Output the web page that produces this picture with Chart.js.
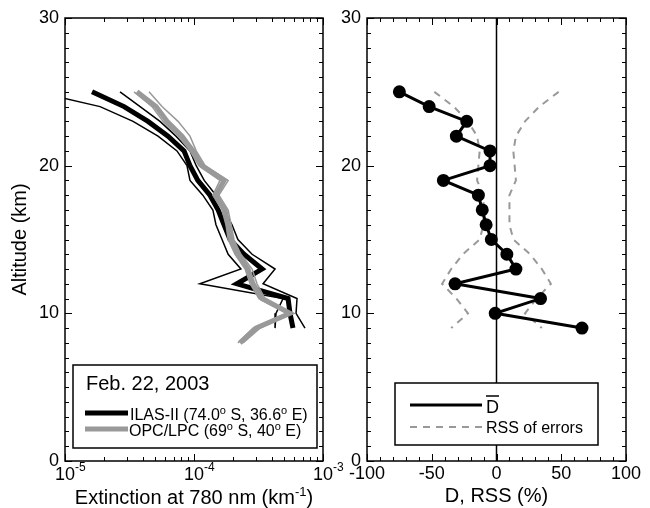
<!DOCTYPE html>
<html lang="en">
<head>
<meta charset="UTF-8">
<title>ILAS-II vs OPC/LPC extinction, Feb. 22, 2003</title>
<script src="https://cdn.jsdelivr.net/npm/chart.js"></script>
<style>
  body { margin: 0; background: #fff; }
  #wrap { position: relative; width: 650px; height: 508px; }
  canvas { position: absolute; top: 0; }
  #left { left: 0; }
  #right { left: 330px; }
</style>
</head>
<body>
<div id="wrap">
  <canvas id="left" width="345" height="508"></canvas>
  <canvas id="right" width="320" height="508"></canvas>
</div>
<script>
// ILAS-II extinction profile (km^-1) with lower / upper error bounds
const ilasAlt = [25, 24, 23, 22, 21, 20, 19, 18, 17, 16, 15, 14, 13, 12, 11, 10, 9];
const ilasExt = [1.62e-5, 2.87e-5, 4.40e-5, 6.29e-5, 8.37e-5, 9.31e-5, 1.07e-4, 1.33e-4, 1.54e-4, 1.71e-4, 1.90e-4, 2.44e-4, 3.37e-4, 2.15e-4, 5.36e-4, 5.55e-4, 5.85e-4];
const ilasLow = [6.0e-6, 1.87e-5, 3.37e-5, 5.26e-5, 7.38e-5, 8.82e-5, 9.31e-5, 1.17e-4, 1.40e-4, 1.48e-4, 1.65e-4, 1.84e-4, 2.31e-4, 1.11e-4, 4.90e-4, 4.32e-4, 4.25e-4];
const ilasHigh = [2.67e-5, 3.82e-5, 5.45e-5, 7.25e-5, 9.31e-5, 1.04e-4, 1.20e-4, 1.48e-4, 1.71e-4, 1.97e-4, 2.19e-4, 2.82e-4, 4.25e-4, 3.43e-4, 6.29e-4, 6.18e-4, 7.25e-4];

// OPC/LPC extinction profile with its bounds
const opcAlt = [25, 24, 23, 22, 21, 20, 19, 18, 17, 16, 15, 14, 13, 12, 11, 10, 9, 8];
const opcExt = [3.61e-5, 5.08e-5, 6.18e-5, 8.07e-5, 9.82e-5, 1.15e-4, 1.71e-4, 1.48e-4, 1.74e-4, 1.84e-4, 1.94e-4, 2.19e-4, 2.62e-4, 2.87e-4, 3.37e-4, 5.55e-4, 3.02e-4, 2.27e-4];
const opcLow = [3.43e-5, 4.73e-5, 5.75e-5, 7.52e-5, 9.31e-5, 1.09e-4, 1.59e-4, 1.40e-4, 1.65e-4, 1.77e-4, 1.84e-4, 2.08e-4, 2.49e-4, 2.72e-4, 3.19e-4, 5.26e-4, 2.87e-4, 2.19e-4];
const opcHigh = [4.48e-5, 5.65e-5, 7.52e-5, 9.31e-5, 1.04e-4, 1.22e-4, 1.84e-4, 1.56e-4, 1.84e-4, 1.94e-4, 2.04e-4, 2.31e-4, 2.82e-4, 3.08e-4, 3.55e-4, 5.75e-4, 3.25e-4, 2.40e-4];

// mean difference D (%) and RSS of errors (%)
const diffAlt = [25, 24, 23, 22, 21, 20, 19, 18, 17, 16, 15, 14, 13, 12, 11, 10, 9];
const diffMean = [-75, -52, -23, -31, -5, -5, -41, -14, -11, -8, -4, 8, 15, -32, 34, -1, 66];
const rssErr = [48, 33, 22, 15, 13, 14, 15, 10, 10, 10, 13, 26, 35, 42, 31, 22, 35];

const altTicks = [0, 10, 20, 30];
const extTicks = [1e-5, 1e-4, 1e-3];
const diffTicks = [-100, -50, 0, 50, 100];

const FONT = '"Liberation Sans", Arial, sans-serif';
const GRAY = '#999999';

function pts(xs, ys) {
  return xs.map((x, i) => ({ x: x, y: ys[i] }));
}

// box round the plot + inward ticks on all four sides
function drawBox(chart, xMinor, xMajor) {
  const { ctx, chartArea: a, scales } = chart;
  const x = scales.x, y = scales.y;
  ctx.save();
  ctx.strokeStyle = '#000';
  ctx.lineWidth = 1;
  ctx.beginPath();
  const tick = (vals, len, horiz) => {
    vals.forEach(v => {
      if (horiz) {
        const p = Math.round(x.getPixelForValue(v)) + 0.5;
        ctx.moveTo(p, a.bottom); ctx.lineTo(p, a.bottom - len);
        ctx.moveTo(p, a.top); ctx.lineTo(p, a.top + len);
      } else {
        const p = Math.round(y.getPixelForValue(v)) + 0.5;
        ctx.moveTo(a.left, p); ctx.lineTo(a.left + len, p);
        ctx.moveTo(a.right, p); ctx.lineTo(a.right - len, p);
      }
    });
  };
  const yMinor = [];
  for (let v = 0; v <= 30; v++) yMinor.push(v);
  tick(yMinor, 4, false);
  tick(altTicks, 7, false);
  tick(xMinor, 4, true);
  tick(xMajor, 7, true);
  ctx.stroke();
  ctx.lineWidth = 1.5;
  ctx.strokeRect(a.left, a.top, a.right - a.left, a.bottom - a.top);
  ctx.restore();
}

// text with superscript parts: [normal, sup, normal, sup, ...]
function supText(ctx, parts, x, y, size, supSize, rise) {
  parts.forEach((s, i) => {
    const sup = i % 2 === 1;
    ctx.font = (sup ? supSize : size) + 'px ' + FONT;
    ctx.fillText(s, x, sup ? y - rise : y);
    x += ctx.measureText(s).width;
  });
  return x;
}
function supWidth(ctx, parts, size, supSize) {
  let w = 0;
  parts.forEach((s, i) => {
    ctx.font = ((i % 2) ? supSize : size) + 'px ' + FONT;
    w += ctx.measureText(s).width;
  });
  return w;
}

const logMinor = [];
[1e-5, 1e-4].forEach(d => { for (let k = 2; k <= 9; k++) logMinor.push(k * d); });

const leftDecor = {
  id: 'leftDecor',
  afterDraw(chart) {
    const ctx = chart.ctx;
    drawBox(chart, logMinor, extTicks);
    ctx.save();
    ctx.fillStyle = '#000';
    ctx.textBaseline = 'alphabetic';
    // log tick labels 10^n
    extTicks.forEach(v => {
      const p = chart.scales.x.getPixelForValue(v);
      const e = String(Math.round(Math.log10(v)));
      ctx.font = '18px ' + FONT;
      const w10 = ctx.measureText('10').width;
      supText(ctx, ['10', e], p - w10 / 2, 480, 18, 12, 9);
    });
    // x title
    const tparts = ['Extinction at 780 nm (km', '-1', ')'];
    const tw = supWidth(ctx, tparts, 20, 13);
    const cx = (chart.chartArea.left + chart.chartArea.right) / 2;
    supText(ctx, tparts, cx - tw / 2, 504, 20, 13, 8);
    // legend
    ctx.fillStyle = '#fff';
    ctx.fillRect(73, 365, 244, 83);
    ctx.strokeStyle = '#000';
    ctx.lineWidth = 1.5;
    ctx.strokeRect(73, 365, 244, 83);
    ctx.fillStyle = '#000';
    ctx.font = '20px ' + FONT;
    ctx.fillText('Feb. 22, 2003', 86, 390);
    ctx.lineWidth = 5;
    ctx.beginPath(); ctx.moveTo(85, 413); ctx.lineTo(128, 413); ctx.stroke();
    ctx.strokeStyle = GRAY;
    ctx.beginPath(); ctx.moveTo(85, 429); ctx.lineTo(128, 429); ctx.stroke();
    supText(ctx, ['ILAS-II (74.0', 'o', ' S, 36.6', 'o', ' E)'], 130, 420, 16, 11, 6);
    supText(ctx, ['OPC/LPC (69', 'o', ' S, 40', 'o', ' E)'], 129, 436, 16, 11, 6);
    ctx.restore();
  }
};

const linMinor = [];
for (let v = -100; v <= 100; v += 10) linMinor.push(v);

const rightDecor = {
  id: 'rightDecor',
  afterDraw(chart) {
    const ctx = chart.ctx;
    drawBox(chart, linMinor, diffTicks);
    ctx.save();
    const ox = -330;
    ctx.fillStyle = '#fff';
    ctx.fillRect(395 + ox, 383, 203, 62);
    ctx.strokeStyle = '#000';
    ctx.lineWidth = 1.5;
    ctx.strokeRect(395 + ox, 383, 203, 62);
    ctx.lineWidth = 3;
    ctx.beginPath(); ctx.moveTo(410 + ox, 405); ctx.lineTo(482 + ox, 405); ctx.stroke();
    ctx.strokeStyle = GRAY;
    ctx.lineWidth = 2;
    ctx.setLineDash([7, 6]);
    ctx.beginPath(); ctx.moveTo(410 + ox, 427); ctx.lineTo(482 + ox, 427); ctx.stroke();
    ctx.setLineDash([]);
    ctx.fillStyle = '#000';
    ctx.textBaseline = 'alphabetic';
    ctx.font = '18px ' + FONT;
    ctx.fillText('D', 486 + ox, 413);
    const dw = ctx.measureText('D').width;
    ctx.strokeStyle = '#000';
    ctx.lineWidth = 1.5;
    ctx.beginPath(); ctx.moveTo(486 + ox, 396); ctx.lineTo(486 + ox + dw, 396); ctx.stroke();
    ctx.font = '16px ' + FONT;
    ctx.fillText('RSS of errors', 486 + ox, 433);
    ctx.restore();
  }
};

const yAxis = (width, withTitle) => ({
  type: 'linear',
  min: 0,
  max: 30,
  afterFit: s => { s.width = width; },
  grid: { display: false, drawTicks: false },
  border: { display: false },
  ticks: { stepSize: 10, padding: 6, color: '#000', font: { family: FONT, size: 18 } },
  title: {
    display: withTitle,
    text: 'Altitude (km)',
    color: '#000',
    font: { family: FONT, size: 20 },
    padding: { top: 8, bottom: 0 }
  }
});

const thin = (data, color, order) => ({
  data: data, borderColor: color, borderWidth: 1.5, showLine: true,
  pointRadius: 0, fill: false, order: order
});

new Chart(document.getElementById('left'), {
  type: 'scatter',
  data: {
    datasets: [
      { data: pts(opcExt, opcAlt), borderColor: GRAY, borderWidth: 5, showLine: true, pointRadius: 0, order: 0 },
      thin(pts(opcLow, opcAlt), GRAY, 1),
      thin(pts(opcHigh, opcAlt), GRAY, 1),
      { data: pts(ilasExt, ilasAlt), borderColor: '#000', borderWidth: 5, showLine: true, pointRadius: 0, order: 2 },
      thin(pts(ilasLow, ilasAlt), '#000', 3),
      thin(pts(ilasHigh, ilasAlt), '#000', 3)
    ]
  },
  options: {
    responsive: false,
    animation: false,
    layout: { padding: { top: 18, right: 22, left: 0, bottom: 0 } },
    plugins: { legend: { display: false }, tooltip: { enabled: false } },
    scales: {
      x: {
        type: 'logarithmic',
        min: 1e-5,
        max: 1e-3,
        afterFit: s => { s.height = 47; },
        grid: { display: false, drawTicks: false },
        border: { display: false },
        ticks: { display: false }
      },
      y: yAxis(65, true)
    }
  },
  plugins: [leftDecor]
});

new Chart(document.getElementById('right'), {
  type: 'scatter',
  data: {
    datasets: [
      { data: pts(diffMean, diffAlt), borderColor: '#000', backgroundColor: '#000', borderWidth: 3,
        showLine: true, pointRadius: 5, pointHoverRadius: 5, order: 0 },
      { data: [{ x: 0, y: 0 }, { x: 0, y: 30 }], borderColor: '#000', borderWidth: 1.5,
        showLine: true, pointRadius: 0, order: 1 },
      { data: pts(rssErr, diffAlt), borderColor: GRAY, borderWidth: 2, borderDash: [7, 6],
        showLine: true, pointRadius: 0, order: 2 },
      { data: pts(rssErr.map(v => -v), diffAlt), borderColor: GRAY, borderWidth: 2, borderDash: [7, 6],
        showLine: true, pointRadius: 0, order: 2 }
    ]
  },
  options: {
    responsive: false,
    animation: false,
    layout: { padding: { top: 18, right: 24, left: 0, bottom: 0 } },
    plugins: { legend: { display: false }, tooltip: { enabled: false } },
    scales: {
      x: {
        type: 'linear',
        min: -100,
        max: 100,
        afterFit: s => { s.height = 47; },
        grid: { display: false, drawTicks: false },
        border: { display: false },
        ticks: { stepSize: 50, padding: 2, color: '#000', font: { family: FONT, size: 18 } },
        title: {
          display: true,
          text: 'D, RSS (%)',
          color: '#000',
          font: { family: FONT, size: 20 },
          padding: { top: 0, bottom: 0 }
        }
      },
      y: yAxis(37, false)
    }
  },
  plugins: [rightDecor]
});
</script>
</body>
</html>
